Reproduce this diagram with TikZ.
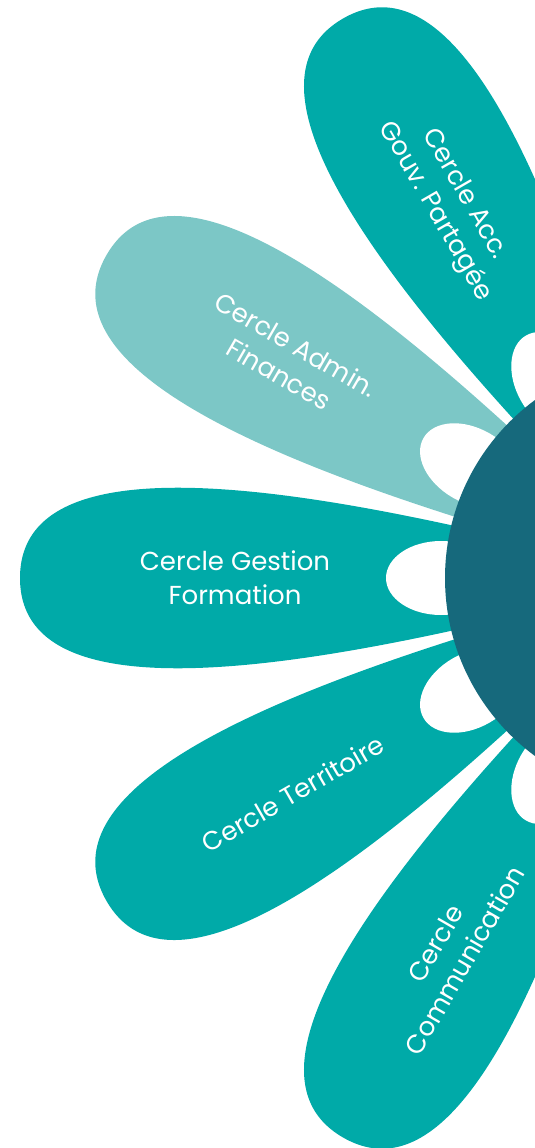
\documentclass[tikz,border=0pt]{standalone}
\usepackage{fontspec}
\setmainfont{Poppins}
\definecolor{petal}{RGB}{0,170,168}
\definecolor{petallight}{RGB}{124,199,198}
\definecolor{hubcol}{RGB}{22,105,124}
\tikzset{
  petalshape/.pic={\fill[pic actions] (0,0) .. controls (300,80) and (646,155) .. (646,0) .. controls (646,-155) and (300,-80) .. (0,0);},
  hole/.style={fill=white},
  lbl/.style={text=white, align=center, inner sep=0pt, font=\fontsize{26}{34}\selectfont}
}
\begin{document}
\begin{tikzpicture}[x=1pt,y=1pt]
\useasboundingbox (0,0) rectangle (535,-1148);
\clip (0,0) rectangle (535,-1148);
\begin{scope}[shift={(666,-578)}]
  \pic[fill=petal, rotate=120] {petalshape};
  \pic[fill=petallight, rotate=150] {petalshape};
  \pic[fill=petal, rotate=180] {petalshape};
  \pic[fill=petal, rotate=210] {petalshape};
  \pic[fill=petal, rotate=240] {petalshape};
  \foreach \a in {120,150,180,210,240}{
    \fill[hole, rotate=\a] (225,0) ellipse [x radius=55, y radius=37];
  }
  \node[circle, fill=hubcol, minimum size=442pt, inner sep=0pt] (hub) at (0,0) {};
  \node[lbl, rotate=-60] (acc) at (120:433) {Cercle Acc.\\Gouv. Partagée};
  \node[lbl, rotate=-30] (admin) at (150:437) {Cercle Admin.\\Finances};
  \node[lbl] (gestion) at (180:431) {Cercle Gestion\\Formation};
  \node[lbl, rotate=30] (terr) at (210:431) {Cercle Territoire};
  \node[lbl, rotate=60] (comm) at (240:432) {Cercle\\Communication};
\end{scope}
\end{tikzpicture}
\end{document}
